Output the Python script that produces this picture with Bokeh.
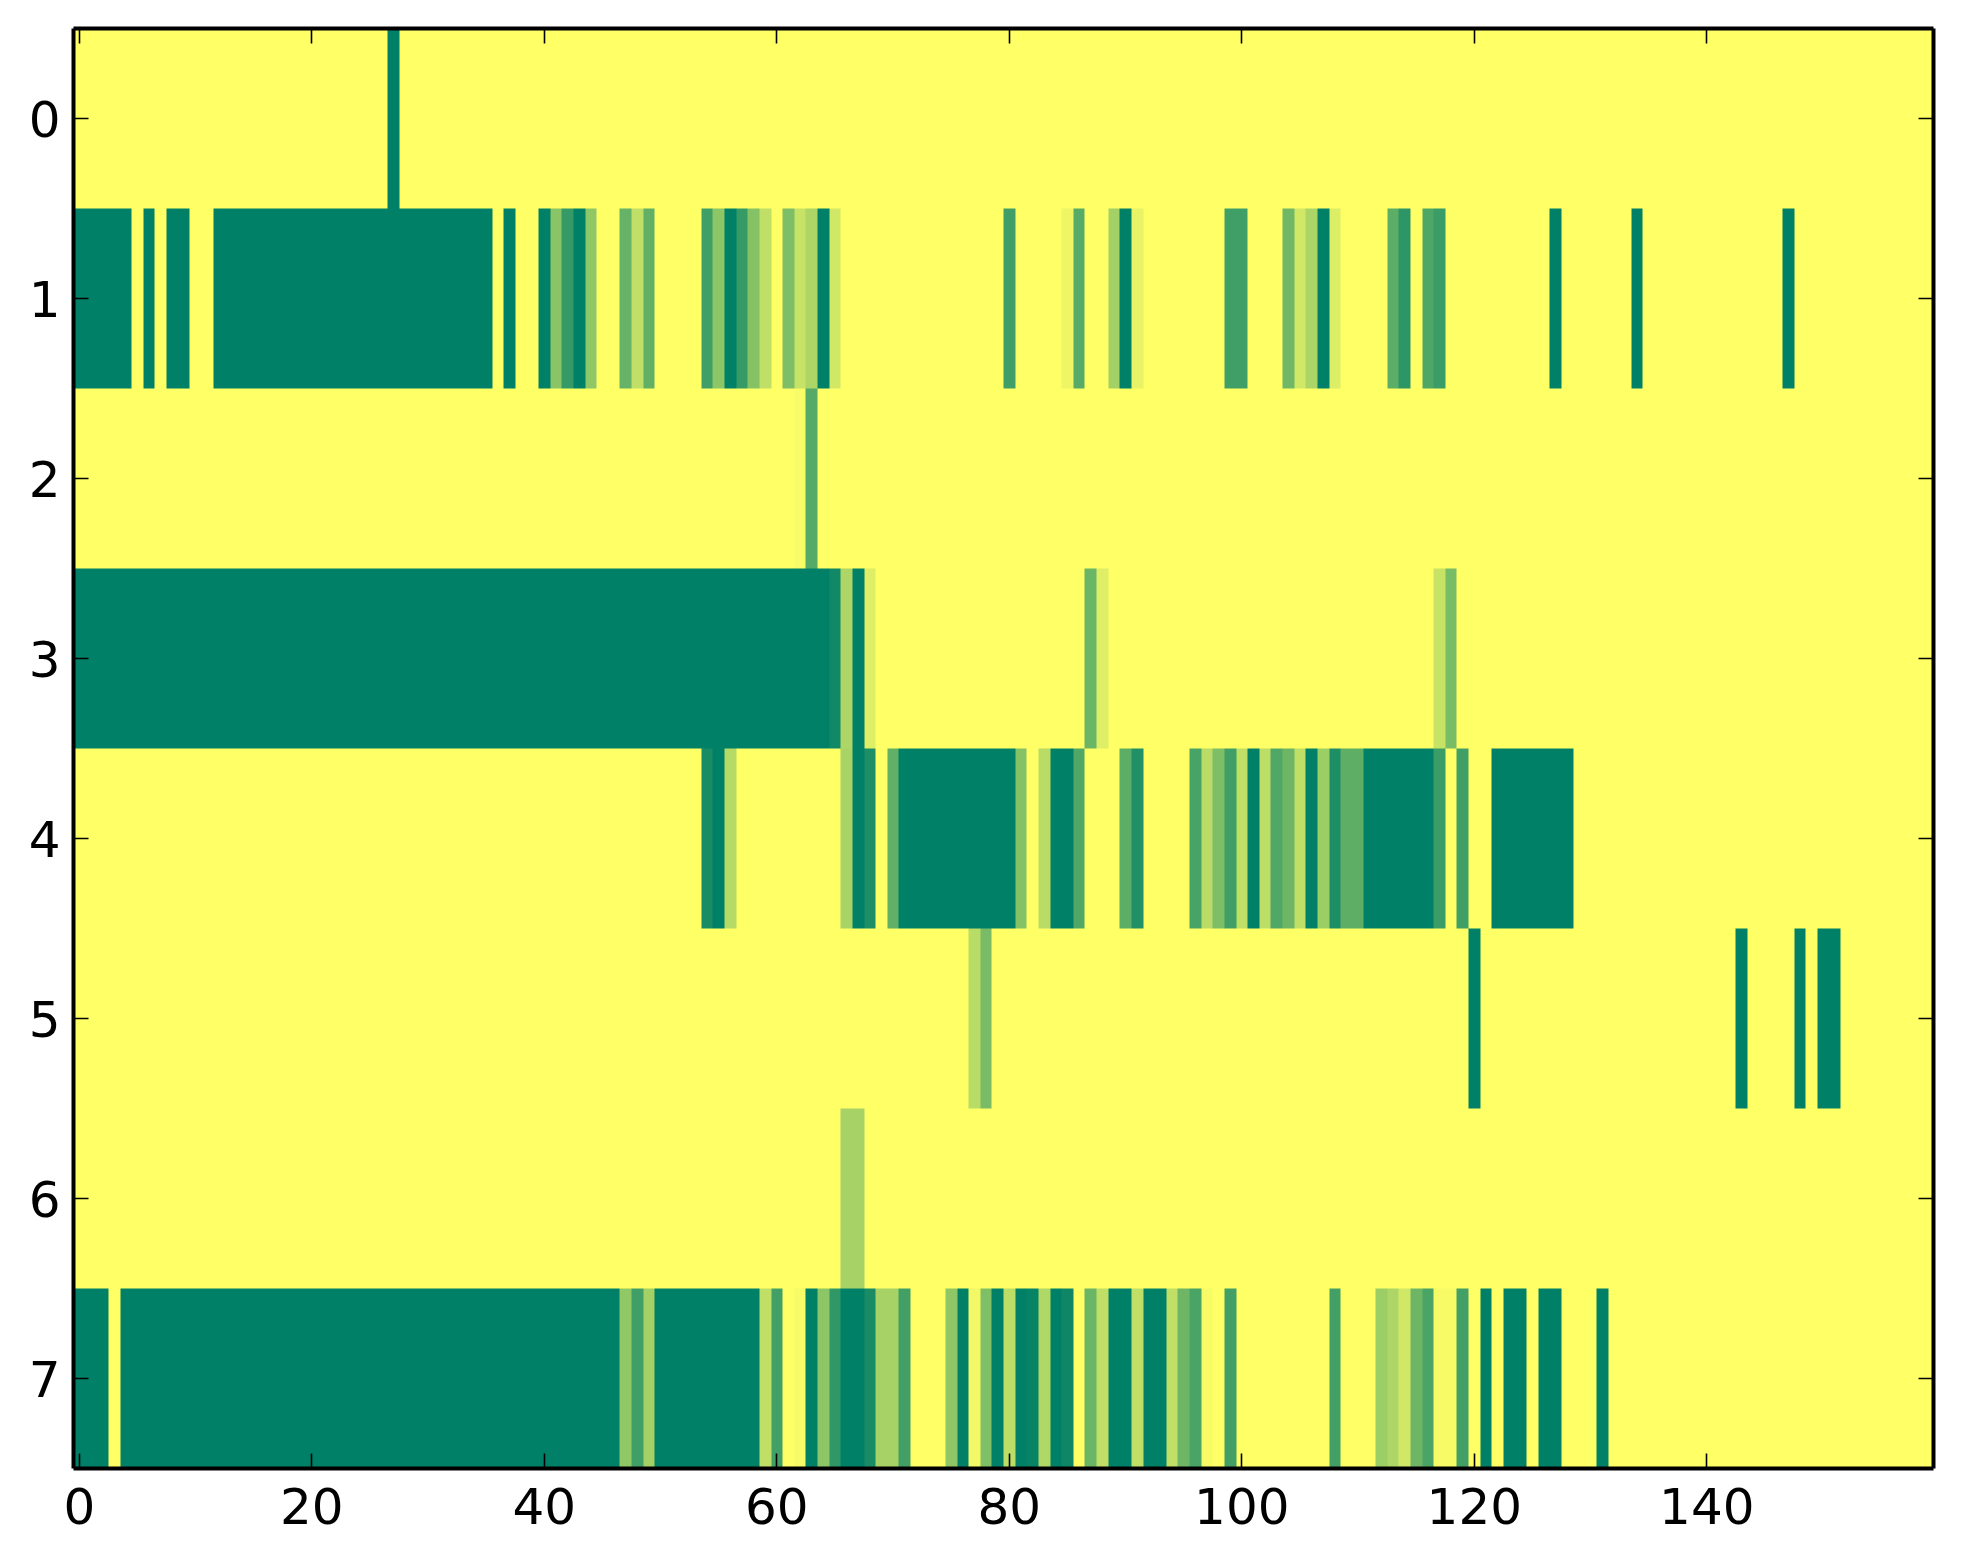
import numpy as np
from bokeh.plotting import figure
from bokeh.models import LinearColorMapper, LinearAxis, FixedTicker, Range1d
from bokeh.embed import file_html
from bokeh.resources import INLINE

# Cell intensities per row as (first column, last column, value); every other cell is 0
n_cols = 160
row_0 = [(27, 27, 1.0)]
row_1 = [(0, 4, 1.0), (6, 6, 1.0), (8, 9, 1.0), (12, 35, 1.0), (37, 37, 1.0), (40, 40, 1.0),
         (41, 41, .46), (42, 42, .79), (43, 43, 1.0), (44, 44, .44), (47, 47, .6), (48, 48, .25),
         (49, 49, .62), (54, 54, .75), (55, 55, .45), (56, 56, 1.0), (57, 57, .79), (58, 58, .48),
         (59, 59, .25), (61, 61, .51), (62, 62, .22), (63, 63, .32), (64, 64, 1.0), (65, 65, .18),
         (80, 80, .75), (85, 85, .07), (86, 86, .66), (89, 89, .36), (90, 90, 1.0), (91, 91, .09),
         (99, 100, .75), (104, 104, .56), (105, 105, .18), (106, 106, .33), (107, 107, 1.0),
         (108, 108, .14), (113, 113, .64), (114, 114, .82), (116, 116, .69), (117, 117, .77),
         (127, 127, 1.0), (134, 134, 1.0), (147, 147, 1.0)]
row_2 = [(62, 62, .03), (63, 63, .67)]
row_3 = [(0, 64, 1.0), (65, 65, .93), (66, 66, .32), (67, 67, 1.0), (68, 68, .13),
         (87, 87, .58), (88, 88, .13), (117, 117, .22), (118, 118, .53)]
row_4 = [(54, 54, .9), (55, 55, 1.0), (56, 56, .29), (66, 66, .34), (67, 67, 1.0), (68, 68, .88),
         (70, 70, .62), (71, 80, 1.0), (81, 81, .48), (83, 83, .28), (84, 85, 1.0), (86, 86, .68),
         (90, 90, .64), (91, 91, .87), (96, 96, .72), (97, 97, .27), (98, 98, .51), (99, 99, .75),
         (100, 100, .25), (101, 101, 1.0), (102, 102, .26), (103, 103, .68), (104, 104, .57),
         (105, 105, .25), (106, 106, 1.0), (107, 107, .39), (108, 108, .88), (109, 110, .63),
         (111, 116, 1.0), (117, 117, .77), (119, 119, .75), (122, 128, 1.0)]
row_5 = [(77, 77, .28), (78, 78, .52), (120, 120, 1.0), (143, 143, 1.0), (148, 148, 1.0), (150, 151, 1.0)]
row_6 = [(66, 67, .35)]
row_7 = [(0, 2, 1.0), (4, 46, 1.0), (47, 47, .43), (48, 48, .75), (49, 49, .36), (50, 58, 1.0),
         (59, 59, .25), (60, 60, .74), (62, 62, .035), (63, 63, 1.0), (64, 64, .45), (65, 65, .81),
         (66, 67, 1.0), (68, 68, .9), (69, 70, .35), (71, 71, .74), (75, 75, .44), (76, 76, 1.0),
         (77, 77, .05), (78, 78, .5), (79, 79, 1.0), (80, 80, .26), (81, 81, 1.0), (82, 82, .97),
         (83, 83, .31), (84, 84, 1.0), (85, 85, .94), (87, 87, .58), (88, 88, .25), (89, 90, 1.0),
         (91, 91, .25), (92, 93, 1.0), (94, 94, .25), (95, 95, .57), (96, 96, .71), (97, 97, .035),
         (99, 99, .74), (108, 108, .74), (112, 112, .39), (113, 113, .32), (114, 114, .18),
         (115, 115, .57), (116, 116, .71), (117, 118, .035), (119, 119, .74), (121, 121, 1.0),
         (123, 124, 1.0), (126, 127, 1.0), (131, 131, 1.0)]
rows = [row_0, row_1, row_2, row_3, row_4, row_5, row_6, row_7]
x_ticks = [0, 20, 40, 60, 80, 100, 120, 140]
y_ticks = [0, 1, 2, 3, 4, 5, 6, 7]

matrix = np.zeros((len(rows), n_cols))
for r, segments in enumerate(rows):
    for first, last, v in segments:
        matrix[r, first:last + 1] = v

# matplotlib's summer_r colormap
palette = []
for i in range(256):
    t = i / 255
    palette.append("#%02x%02x%02x" % (round(255 * (1 - t)), round(255 - 127.5 * t), 102))
mapper = LinearColorMapper(palette=palette, low=0, high=1)

p = figure(frame_width=1860, frame_height=1440,
           x_range=Range1d(-0.5, n_cols - 0.5), y_range=Range1d(len(rows) - 0.5, -0.5),
           output_backend="svg", toolbar_location=None, x_axis_location="below",
           min_border_left=73, min_border_right=22, min_border_top=28, min_border_bottom=88,
           background_fill_color="#ffff66", border_fill_color="white")
p.grid.visible = False
p.outline_line_color = None
p.image(image=[matrix], x=-0.5, y=-0.5, dw=n_cols, dh=len(rows), color_mapper=mapper)


def style(ax, ticks, standoff):
    ax.ticker = FixedTicker(ticks=ticks)
    ax.axis_line_color = "black"
    ax.axis_line_width = 4
    ax.major_tick_in = 15
    ax.major_tick_out = 0
    ax.major_tick_line_color = "black"
    ax.major_tick_line_width = 1.6
    ax.minor_tick_line_color = None
    if standoff is not None:
        ax.major_label_text_font = "DejaVu Sans"
        ax.major_label_text_font_size = "50px"
        ax.major_label_text_color = "black"
        ax.major_label_standoff = standoff
    else:
        ax.major_label_overrides = {t: "" for t in ticks}
        ax.major_label_text_font_size = "0px"
        ax.major_label_standoff = 0


style(p.xaxis[0], x_ticks, 19)
style(p.yaxis[0], y_ticks, 13)
top = LinearAxis()
right = LinearAxis()
style(top, x_ticks, None)
style(right, y_ticks, None)
p.add_layout(top, "above")
p.add_layout(right, "right")

open("out.html", "w").write(file_html(p, INLINE))
